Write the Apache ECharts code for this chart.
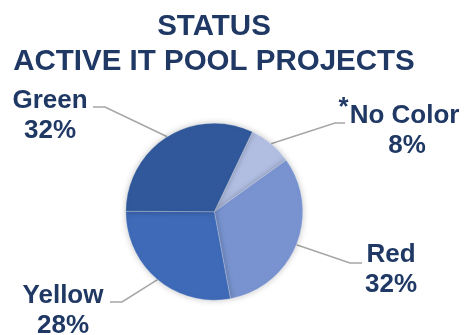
<!DOCTYPE html>
<html>
<head>
<meta charset="utf-8">
<script src="https://cdn.jsdelivr.net/npm/echarts@6/dist/echarts.min.js"></script>
<style>
  html, body { margin: 0; padding: 0; background: #fff; }
  #chart { width: 468px; height: 335px; }
</style>
</head>
<body>
<div id="chart"></div>
<script>
const categories = ["No Color", "Red", "Yellow", "Green"];
const values = [8, 32, 28, 32];
const sliceColors = ["#B1BEE2", "#7893CF", "#3E6AB7", "#30589A"];

// where each label sits and where its leader line bends (pixels)
const labelPos = [
  { x: 399, y: 131, bend: [335, 123], end: [345, 123] },
  { x: 391, y: 270, bend: [350, 263], end: [362, 263] },
  { x: 63, y: 311, bend: [122, 302], end: [110, 302] },
  { x: 50, y: 116, bend: [105, 107], end: [93, 107] },
];

const navy = "#1F3864";
const chart = echarts.init(document.getElementById("chart"));

const textBase = {
  fontFamily: "Liberation Sans",
  fontWeight: "bold",
  fontSize: 26,
  color: navy,
};

chart.setOption({
  animation: false,
  title: {
    text: "STATUS\nACTIVE IT POOL PROJECTS",
    left: 214,
    top: 9,
    padding: 0,
    textAlign: "center",
    textStyle: {
      fontFamily: "Liberation Sans",
      fontWeight: "bold",
      fontSize: 29.5,
      lineHeight: 35,
      color: navy,
    },
  },
  series: [
    {
      type: "pie",
      center: [214.3, 211.7],
      radius: 88.5,
      startAngle: 64.5,
      avoidLabelOverlap: false,
      data: categories.map((name, i) => ({
        name: name,
        value: values[i],
        itemStyle: { color: sliceColors[i] },
      })),
      itemStyle: {
        borderColor: "rgba(255,255,255,0.5)",
        borderWidth: 0.5,
        shadowBlur: 6,
        shadowColor: "rgba(0,0,0,0.25)",
      },
      label: {
        show: true,
        ...textBase,
        formatter: (p) => {
          const pct = Math.round(p.percent) + "%";
          if (p.name === "No Color") {
            return "{sup|*}{name|" + p.name + "}\n{pctR|" + pct + "}";
          }
          return "{name|" + p.name + "}\n{pct|" + pct + "}";
        },
        rich: {
          sup: { ...textBase, lineHeight: 10, padding: [0, 1, 16, 0] },
          name: { ...textBase, lineHeight: 30 },
          pct: { ...textBase, lineHeight: 30 },
          pctR: { ...textBase, lineHeight: 30, padding: [0, 0, 0, 16] },
        },
      },
      labelLine: {
        show: true,
        smooth: false,
        lineStyle: { color: "#A6A6A6", width: 1.5 },
      },
      labelLayout: (params) => {
        const pos = labelPos[params.dataIndex];
        const start = params.labelLinePoints ? params.labelLinePoints[0] : pos.bend;
        return {
          x: pos.x,
          y: pos.y,
          align: "center",
          verticalAlign: "middle",
          labelLinePoints: [start, pos.bend, pos.end],
        };
      },
    },
  ],
});
</script>
</body>
</html>
